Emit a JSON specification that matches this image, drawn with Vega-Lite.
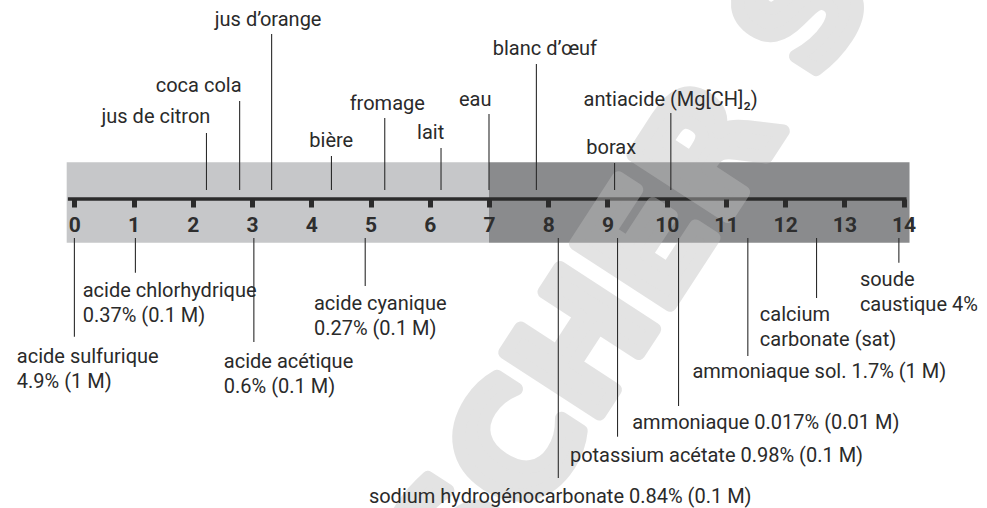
{
  "$schema": "https://vega.github.io/schema/vega-lite/v6.json",
  "width": 987,
  "height": 508,
  "autosize": {"type": "none"},
  "padding": 0,
  "background": "#ffffff",
  "config": {"view": {"stroke": null}},
  "datasets": {
    "zones": [
      {"debut": -0.13, "fin": 7.0, "zone": "acide"},
      {"debut": 7.0, "fin": 14.1, "zone": "basique"}
    ],
    "echelle": [{"de": -0.11, "a": 14.05, "niveau": 0}],
    "produits": [
      {"produit": "jus de citron", "pH": 2.23, "cote": "haut", "tx": 1.377, "ty": 75.7, "bout": 66, "pied": 9},
      {"produit": "coca cola", "pH": 2.79, "cote": "haut", "tx": 2.098, "ty": 106.7, "bout": 98, "pied": 9},
      {"produit": "jus d’orange", "pH": 3.33, "cote": "haut", "tx": 3.271, "ty": 173, "bout": 165, "pied": 9},
      {"produit": "bière", "pH": 4.34, "cote": "haut", "tx": 4.337, "ty": 51.7, "bout": 43, "pied": 9},
      {"produit": "fromage", "pH": 5.24, "cote": "haut", "tx": 5.282, "ty": 89, "bout": 81, "pied": 9},
      {"produit": "lait", "pH": 6.19, "cote": "haut", "tx": 6.014, "ty": 59.7, "bout": 51, "pied": 9},
      {"produit": "eau", "pH": 7.0, "cote": "haut", "tx": 6.767, "ty": 93, "bout": 85, "pied": 9},
      {"produit": "blanc d’œuf", "pH": 7.8, "cote": "haut", "tx": 7.944, "ty": 144, "bout": 135, "pied": 9},
      {"produit": "borax", "pH": 9.12, "cote": "haut", "tx": 9.063, "ty": 45, "bout": 36, "pied": 9},
      {"produit": "antiacide (Mg[CH]₂)", "pH": 10.07, "cote": "haut", "tx": 10.067, "ty": 93.3, "bout": 86, "pied": 9},
      {"produit": "acide sulfurique\n4.9% (1 M)", "pH": 0.0, "cote": "bas", "tx": -0.972, "ty": -163.7, "bout": -137.7, "pied": -39},
      {"produit": "acide chlorhydrique\n0.37% (0.1 M)", "pH": 1.03, "cote": "bas", "tx": 0.14, "ty": -97.7, "bout": -73.7, "pied": -39},
      {"produit": "acide acétique\n0.6% (0.1 M)", "pH": 3.03, "cote": "bas", "tx": 2.523, "ty": -168.7, "bout": -143, "pied": -39},
      {"produit": "acide cyanique\n0.27% (0.1 M)", "pH": 4.91, "cote": "bas", "tx": 4.044, "ty": -111, "bout": -87, "pied": -39},
      {"produit": "sodium hydrogénocarbonate 0.84% (0.1 M)", "pH": 8.17, "cote": "bas", "tx": 4.972, "ty": -304, "bout": -279, "pied": -39},
      {"produit": "potassium acétate 0.98% (0.1 M)", "pH": 9.17, "cote": "bas", "tx": 8.366, "ty": -262.7, "bout": -237.7, "pied": -39},
      {"produit": "ammoniaque 0.017% (0.01 M)", "pH": 10.2, "cote": "bas", "tx": 9.418, "ty": -230.3, "bout": -207, "pied": -39},
      {"produit": "ammoniaque sol. 1.7% (1 M)", "pH": 11.37, "cote": "bas", "tx": 10.435, "ty": -179.3, "bout": -157, "pied": -39},
      {"produit": "calcium\ncarbonate (sat)", "pH": 12.53, "cote": "bas", "tx": 11.573, "ty": -121.7, "bout": -99, "pied": -39},
      {"produit": "soude\ncaustique 4%", "pH": 13.92, "cote": "bas", "tx": 13.262, "ty": -87, "bout": -63.7, "pied": -39}
    ],
    "filigrane": [{"texte": "SCHER SC", "fx": 9.95, "fy": -30}]
  },
  "data": {"name": "zones"},
  "layer": [
    {
      "data": {"name": "zones"},
      "mark": {"type": "rect"},
      "encoding": {
        "x": {
          "field": "debut", "type": "quantitative",
          "scale": {"domain": [-1.256, 15.408], "nice": false, "zero": false},
          "axis": {
            "values": [0, 1, 2, 3, 4, 5, 6, 7, 8, 9, 10, 11, 12, 13, 14],
            "orient": "bottom", "offset": -309, "domain": false, "grid": false, "title": null,
            "format": "d", "tickColor": "#2b2b2b", "tickWidth": 5, "tickSize": 8,
            "labelFont": "Roboto", "labelFontWeight": "bold", "labelFontSize": 21,
            "labelColor": "#2e2e2e", "labelPadding": 7, "labelFlush": false, "labelOverlap": false,
            "zindex": 1
          }
        },
        "x2": {"field": "fin"},
        "y": {"datum": 36.7, "type": "quantitative", "scale": {"domain": [-309, 199], "nice": false, "zero": false}, "axis": null},
        "y2": {"datum": -43.7},
        "color": {"field": "zone", "type": "nominal", "scale": {"domain": ["acide", "basique"], "range": ["#c6c7c9", "#8a8b8d"]}, "legend": null}
      }
    },
    {
      "data": {"name": "echelle"},
      "mark": {"type": "rule", "color": "#2b2b2b", "strokeWidth": 3.5},
      "encoding": {
        "x": {"field": "de", "type": "quantitative"},
        "x2": {"field": "a"},
        "y": {"field": "niveau", "type": "quantitative"}
      }
    },
    {
      "data": {"name": "filigrane"},
      "mark": {"type": "text", "font": "DejaVu Sans", "fontWeight": "bold", "fontSize": 155, "angle": -57, "align": "center", "baseline": "middle", "fill": "#bdbdbd", "stroke": "#bdbdbd", "strokeWidth": 13, "strokeJoin": "round", "opacity": 0.42},
      "encoding": {
        "x": {"field": "fx", "type": "quantitative"},
        "y": {"field": "fy", "type": "quantitative"},
        "text": {"field": "texte", "type": "nominal"}
      }
    },
    {
      "data": {"name": "produits"},
      "mark": {"type": "rule", "color": "#2b2b2b", "strokeWidth": 1.1},
      "encoding": {
        "x": {"field": "pH", "type": "quantitative"},
        "y": {"field": "bout", "type": "quantitative"},
        "y2": {"field": "pied"}
      }
    },
    {
      "data": {"name": "produits"},
      "transform": [{"filter": "datum.cote === 'haut'"}],
      "mark": {"type": "text", "font": "Roboto", "fontWeight": "normal", "fontSize": 20, "align": "center", "baseline": "alphabetic", "color": "#2a2a2a"},
      "encoding": {
        "x": {"field": "tx", "type": "quantitative"},
        "y": {"field": "ty", "type": "quantitative"},
        "text": {"field": "produit", "type": "nominal"}
      }
    },
    {
      "data": {"name": "produits"},
      "transform": [{"filter": "datum.cote === 'bas'"}],
      "mark": {"type": "text", "font": "Roboto", "fontWeight": "normal", "fontSize": 20, "align": "left", "baseline": "alphabetic", "lineBreak": "\n", "lineHeight": 25, "color": "#2a2a2a"},
      "encoding": {
        "x": {"field": "tx", "type": "quantitative"},
        "y": {"field": "ty", "type": "quantitative"},
        "text": {"field": "produit", "type": "nominal"}
      }
    }
  ]
}
